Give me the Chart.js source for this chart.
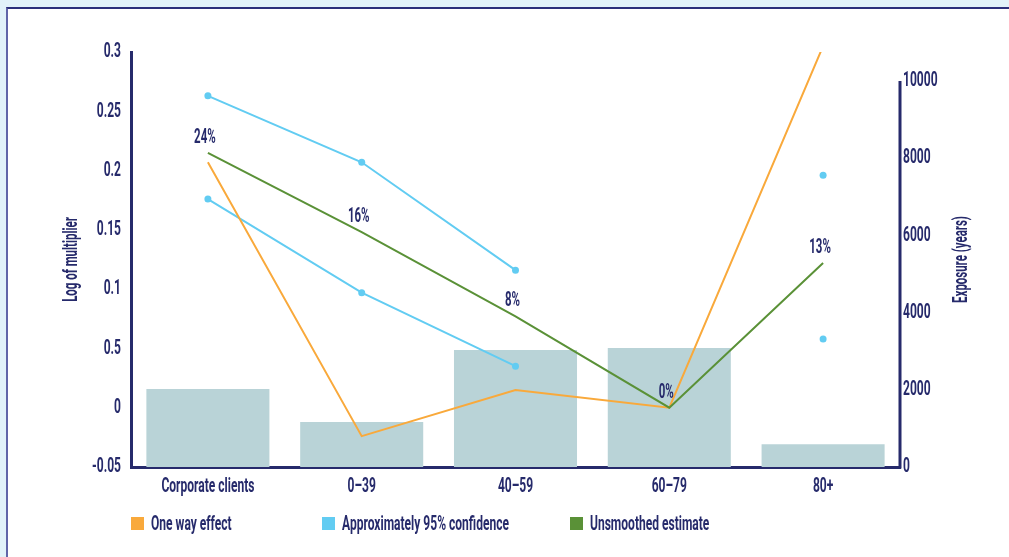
<!DOCTYPE html>
<html>
<head>
<meta charset="utf-8">
<script src="https://cdn.jsdelivr.net/npm/chart.js@4.4.1/dist/chart.umd.min.js"></script>
<style>
  html, body { margin: 0; padding: 0; width: 1009px; height: 557px; overflow: hidden; background: #e1f2f9; }
  .panel { position: absolute; left: 6px; top: 7px; right: 0; bottom: 0; background: #fff; border-top: 2px solid #2a2f7a; border-left: 2px solid #6065a8; }
  #chart { position: absolute; left: 0; top: 0; }
  .sw { position: absolute; width: 13px; height: 13px; top: 517px; }
  .lbl { position: absolute; top: 511px; font: bold 21px Roboto, sans-serif; line-height: 24px; color: #262a6b; white-space: nowrap; transform-origin: 0 50%; }
</style>
</head>
<body>
<div class="panel"></div>
<canvas id="chart" width="1009" height="557"></canvas>
<div id="legend"></div>
<script>
// categories and values
const categories = ['Corporate clients', '0–39', '40–59', '60–79', '80+'];
const exposure = [2020, 1165, 3030, 3080, 590];
const oneWayEffect = [0.207, -0.024, 0.015, 0, 0.305];
const confUpper = [0.263, 0.207, 0.116, null, 0.196];
const confLower = [0.176, 0.097, 0.035, null, 0.058];
const unsmoothed = [0.215, 0.148, 0.077, 0, 0.122];
const unsmoothedLabels = ['24%', '16%', '8%', '0%', '13%'];
const leftTickLabels = ['-0.05', '0', '0.5', '0.1', '0.15', '0.2', '0.25', '0.3'];
const rightTickValues = [0, 2000, 4000, 6000, 8000, 10000];
const legendLabels = ['One way effect', 'Approximately 95% confidence', 'Unsmoothed estimate'];

const navy = '#262a6b';
const orange = '#f9a93b';
const blue = '#62ccf2';
const green = '#5a9137';
const barColor = '#b9d3d7';
const fontFamily = 'Roboto, sans-serif';

Chart.defaults.font.family = fontFamily;
Chart.defaults.font.weight = 'bold';
Chart.defaults.color = navy;

// the original uses a very condensed face: squeeze all canvas text sideways
const canvas = document.getElementById('chart');
const c2d = canvas.getContext('2d');
const rawFill = c2d.fillText.bind(c2d);
const rawMeasure = c2d.measureText.bind(c2d);
c2d.font = 'bold 21px ' + fontFamily;
const squeeze = 167 / rawMeasure('Approximately 95% confidence').width;
c2d.fillText = function (text, x, y) {
    this.save();
    this.translate(x, y);
    this.scale(squeeze, 1);
    rawFill(text, 0, 0);
    this.restore();
};
c2d.measureText = function (text) {
    const m = rawMeasure(text);
    return {
        width: m.width * squeeze,
        actualBoundingBoxAscent: m.actualBoundingBoxAscent,
        actualBoundingBoxDescent: m.actualBoundingBoxDescent,
        actualBoundingBoxLeft: m.actualBoundingBoxLeft * squeeze,
        actualBoundingBoxRight: m.actualBoundingBoxRight * squeeze
    };
};

// legend (html, fixed columns like the original)
const legendX = [131, 322, 570];
const legendColors = [orange, blue, green];
const legendEl = document.getElementById('legend');
legendLabels.forEach((txt, i) => {
    const sw = document.createElement('div');
    sw.className = 'sw';
    sw.style.left = legendX[i] + 'px';
    sw.style.background = legendColors[i];
    const lb = document.createElement('div');
    lb.className = 'lbl';
    lb.style.left = (legendX[i] + 20) + 'px';
    lb.style.transform = 'scaleX(' + squeeze + ')';
    lb.textContent = txt;
    legendEl.appendChild(sw);
    legendEl.appendChild(lb);
});

// percent labels above the unsmoothed line, plus the right axis title
const extraText = {
    id: 'extraText',
    afterDatasetsDraw(chart) {
        const meta = chart.getDatasetMeta(4);
        const ctx = chart.ctx;
        ctx.save();
        ctx.font = 'bold 20px ' + fontFamily;
        ctx.fillStyle = navy;
        ctx.textAlign = 'center';
        ctx.textBaseline = 'middle';
        meta.data.forEach((pt, i) => {
            ctx.fillText(unsmoothedLabels[i], pt.x - 3, pt.y - 15);
        });
        // right title reads bottom to top
        const a = chart.chartArea;
        ctx.translate(962, (a.top + a.bottom) / 2);
        ctx.rotate(-Math.PI / 2);
        ctx.fillText('Exposure (years)', 0, 0);
        ctx.restore();
    }
};

// right axis line only runs up to the top tick
const rightAxisLine = {
    id: 'rightAxisLine',
    afterDraw(chart) {
        const s = chart.scales.y1;
        const ctx = chart.ctx;
        ctx.save();
        ctx.strokeStyle = navy;
        ctx.lineWidth = 3;
        ctx.beginPath();
        ctx.moveTo(s.left, s.getPixelForValue(0) + 1.5);
        ctx.lineTo(s.left, s.getPixelForValue(10000));
        ctx.stroke();
        ctx.restore();
    }
};

new Chart(canvas, {
    data: {
        labels: categories,
        datasets: [
            {
                type: 'line',
                label: 'One way effect',
                data: oneWayEffect,
                borderColor: orange,
                borderWidth: 2,
                pointRadius: 0,
                yAxisID: 'y',
                order: 1
            },
            {
                type: 'line',
                label: 'Approximately 95% confidence',
                data: confUpper,
                borderColor: blue,
                backgroundColor: blue,
                borderWidth: 2,
                pointRadius: 3.5,
                pointBorderWidth: 0,
                spanGaps: false,
                yAxisID: 'y',
                order: 1
            },
            {
                type: 'line',
                label: 'Approximately 95% confidence (lower)',
                data: confLower,
                borderColor: blue,
                backgroundColor: blue,
                borderWidth: 2,
                pointRadius: 3.5,
                pointBorderWidth: 0,
                spanGaps: false,
                yAxisID: 'y',
                order: 1
            },
            {
                type: 'bar',
                label: 'Exposure',
                data: exposure,
                backgroundColor: barColor,
                barPercentage: 0.8,
                categoryPercentage: 1.0,
                yAxisID: 'y1',
                order: 10
            },
            {
                type: 'line',
                label: 'Unsmoothed estimate',
                data: unsmoothed,
                borderColor: green,
                borderWidth: 2,
                pointRadius: 0,
                yAxisID: 'y',
                order: 0
            }
        ]
    },
    options: {
        responsive: false,
        animation: false,
        events: [],
        layout: { padding: { top: 52, left: 0, right: 0, bottom: 0 } },
        plugins: {
            legend: { display: false },
            tooltip: { enabled: false }
        },
        scales: {
            x: {
                grid: { display: false, drawTicks: false },
                border: { color: navy, width: 3 },
                ticks: { color: navy, font: { size: 21 }, padding: 7, maxRotation: 0, autoSkip: false },
                afterFit(s) { s.height = 90; }
            },
            y: {
                position: 'left',
                min: -0.05,
                max: 0.3,
                grid: { display: false, drawTicks: false },
                border: { color: navy, width: 3 },
                ticks: {
                    stepSize: 0.05,
                    padding: 10,
                    font: { size: 21 },
                    callback: (v, i) => leftTickLabels[i]
                },
                title: { display: true, text: 'Log of multiplier', color: navy, font: { size: 20 }, padding: { top: 60, bottom: 0 } },
                afterFit(s) { s.width = 131; }
            },
            y1: {
                position: 'right',
                min: 0,
                max: 10751,
                grid: { display: false, drawTicks: false },
                border: { display: false },
                afterBuildTicks(s) { s.ticks = rightTickValues.map(v => ({ value: v })); },
                ticks: { padding: 3, font: { size: 21 }, callback: v => String(v) },
                afterFit(s) { s.width = 109; }
            }
        }
    },
    plugins: [extraText, rightAxisLine]
});
</script>
</body>
</html>
